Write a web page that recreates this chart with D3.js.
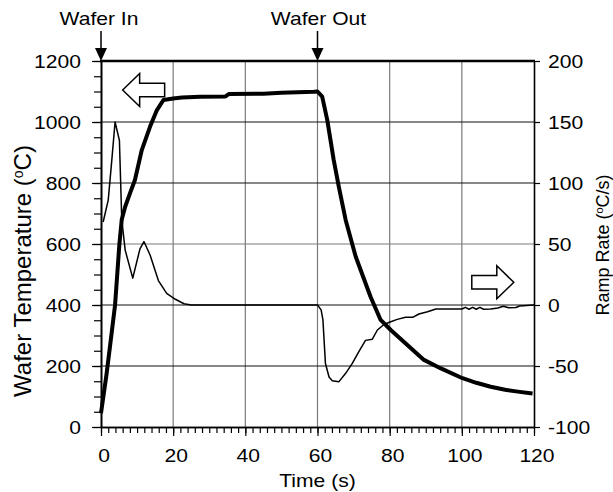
<!DOCTYPE html>
<html>
<head>
<meta charset="utf-8">
<script src="https://cdn.jsdelivr.net/npm/d3@7"></script>
<style>
	body { margin: 0; background: #fff; }
	svg { display: block; }
	text { font-family: "Liberation Sans", Arial, sans-serif; fill: #000; }
</style>
</head>
<body>
<svg id="chart"></svg>
<script>
// wafer temperature (left axis)
const tempTime = [0, 1.5, 2.5, 3.9, 5.1, 5.75, 6.7, 8, 9.4, 11.3, 13.6, 15.5, 17.3, 20, 22.4, 27.5, 34.5, 35.5, 45, 50, 59, 60, 61.3, 62.7, 64.5, 65.9, 67.8, 70.6, 74.7, 77.5, 80.3, 84.9, 89.5, 94.2, 100.2, 104, 108, 112, 115.5, 119.6];
const tempC = [45, 170, 265, 400, 600, 680, 722, 765, 810, 908, 985, 1039, 1072, 1077, 1080, 1083, 1084, 1092, 1093, 1096, 1099, 1100, 1083, 1007, 875, 788, 679, 558, 427, 351, 318, 269, 220, 192, 160, 145, 132, 122, 116, 110];

// ramp rate (right axis)
const rateTime = [0.6, 2, 3, 3.9, 5.1, 5.75, 6.7, 8.8, 10.8, 11.9, 13.6, 15.9, 18.2, 20.6, 23, 25, 60, 61, 61.5, 62.2, 63.2, 64.1, 65.9, 67.8, 69.6, 71.5, 73.3, 75.2, 76.6, 78.4, 80.3, 82.1, 84.4, 86.5, 88.1, 90.5, 92.8, 100, 101, 102, 103, 104, 105, 106, 108, 110, 111.5, 113, 115, 116, 120];
const rateCps = [68, 86, 119, 150, 135, 70, 45, 22, 46, 52, 41, 20, 9.6, 4.7, 1, 0, 0, -4, -12, -48, -59, -62, -63, -56, -48, -38, -29, -28, -20.5, -16, -13.7, -11.8, -10, -10, -7.4, -5.5, -3.3, -3.3, -1.9, -3.5, -1.9, -3.5, -1.9, -3.5, -3.3, -2.5, -1, -2.3, -2, -0.8, 0];

const xTicks = [0, 20, 40, 60, 80, 100, 120];
const leftTicks = [0, 200, 400, 600, 800, 1000, 1200];
const rightTicks = [-100, -50, 0, 50, 100, 150, 200];
const markers = [{ label: "Wafer In", t: 0 }, { label: "Wafer Out", t: 60 }];

const width = 613;
const height = 492;
const margin = { top: 61, right: 79, bottom: 65, left: 101 };
const innerWidth = width - margin.left - margin.right;
const innerHeight = height - margin.top - margin.bottom;

const svg = d3.select("#chart").attr("width", width).attr("height", height);
svg.append("rect").attr("width", width).attr("height", height).attr("fill", "#fff");
const g = svg.append("g").attr("transform", `translate(${margin.left}, ${margin.top})`);

const xScale = d3.scaleLinear().domain([0, 120]).range([0, innerWidth]);
const yLeft = d3.scaleLinear().domain([0, 1200]).range([innerHeight, 0]);
const yRight = d3.scaleLinear().domain([-100, 200]).range([innerHeight, 0]);

// the lettering in the picture is a bit wider than the font
const stretch = (sel, k = 1.14) => {
	sel.each(function () {
		const w = this.getComputedTextLength();
		d3.select(this).attr("textLength", w * k).attr("lengthAdjust", "spacingAndGlyphs");
	});
};

// grid
g.selectAll(".vgrid")
	.data(xTicks.slice(1, -1))
	.enter()
	.append("line")
	.attr("x1", (d) => xScale(d))
	.attr("x2", (d) => xScale(d))
	.attr("y1", 0)
	.attr("y2", innerHeight)
	.attr("stroke", "#7a7a7a")
	.attr("stroke-width", 1.2);
g.selectAll(".hgrid")
	.data(leftTicks.slice(1, -1))
	.enter()
	.append("line")
	.attr("x1", 0)
	.attr("x2", innerWidth)
	.attr("y1", (d) => yLeft(d))
	.attr("y2", (d) => yLeft(d))
	.attr("stroke", (d) => (d === 600 ? "#7a7a7a" : "#111"))
	.attr("stroke-width", 1.2);

// axes: tick marks from d3, labels placed separately below
const styleAxis = (ax) => {
	ax.selectAll(".tick text").remove();
	ax.selectAll("path.domain").attr("stroke", "#000").attr("stroke-width", 1.6);
	ax.selectAll(".tick line").attr("stroke", "#000").attr("stroke-width", 1.2);
};

g.append("g").call(d3.axisLeft(yLeft).tickValues(d3.range(0, 1201, 50)).tickSize(7).tickSizeOuter(0)).call(styleAxis);
g.append("g").call(d3.axisLeft(yLeft).tickValues(leftTicks).tickSize(9).tickSizeOuter(0)).call(styleAxis);
g.append("g")
	.attr("transform", `translate(${innerWidth},0)`)
	.call(d3.axisRight(yRight).tickValues(rightTicks).tickSize(6).tickSizeOuter(0))
	.call(styleAxis);
g.append("g")
	.attr("transform", `translate(0,${innerHeight})`)
	.call(d3.axisBottom(xScale).tickValues(d3.range(0, 121, 2)).tickSize(6).tickSizeOuter(0))
	.call(styleAxis);
g.append("g")
	.attr("transform", `translate(0,${innerHeight})`)
	.call(d3.axisBottom(xScale).tickValues(xTicks).tickSize(9).tickSizeOuter(0))
	.call(styleAxis);

const tickFont = "18.5px";
g.selectAll(".ylab")
	.data(leftTicks)
	.enter()
	.append("text")
	.attr("x", -20)
	.attr("y", (d) => yLeft(d))
	.attr("dy", "0.36em")
	.attr("text-anchor", "end")
	.style("font-size", tickFont)
	.text((d) => d)
	.call(stretch);
g.selectAll(".y2lab")
	.data(rightTicks)
	.enter()
	.append("text")
	.attr("x", innerWidth + 14)
	.attr("y", (d) => yRight(d))
	.attr("dy", "0.36em")
	.style("font-size", tickFont)
	.text((d) => d)
	.call(stretch);
g.selectAll(".xlab")
	.data(xTicks)
	.enter()
	.append("text")
	.attr("x", (d) => xScale(d) + 3)
	.attr("y", innerHeight + 35)
	.attr("text-anchor", "middle")
	.style("font-size", tickFont)
	.text((d) => d)
	.call(stretch);

// heavy frame top
g.append("line")
	.attr("x1", -1)
	.attr("x2", innerWidth + 1)
	.attr("y1", 0)
	.attr("y2", 0)
	.attr("stroke", "#000")
	.attr("stroke-width", 2.5);

// series
const tempLine = d3
	.line()
	.x((d, i) => xScale(tempTime[i]))
	.y((d) => yLeft(d));
g.append("path")
	.attr("d", tempLine(tempC))
	.attr("fill", "none")
	.attr("stroke", "#000")
	.attr("stroke-width", 4)
	.attr("stroke-linejoin", "round");

const rateLine = d3
	.line()
	.x((d, i) => xScale(rateTime[i]))
	.y((d) => yRight(d));
g.append("path")
	.attr("d", rateLine(rateCps))
	.attr("fill", "none")
	.attr("stroke", "#000")
	.attr("stroke-width", 1.5)
	.attr("stroke-linejoin", "round");

// hollow arrows telling which axis belongs to which curve
const blockArrow = (dir) => {
	const L = 42, H = 17, hh = 16.5, bh = 6.8;
	const pts = [[0, 0], [H, -hh], [H, -bh], [L, -bh], [L, bh], [H, bh], [H, hh]];
	return "M" + pts.map((p) => [p[0] * dir, p[1]].join(",")).join("L") + "Z";
};
g.append("path")
	.attr("d", blockArrow(1))
	.attr("transform", `translate(${xScale(6)},${yLeft(1105)})`)
	.attr("fill", "#fff")
	.attr("stroke", "#000")
	.attr("stroke-width", 1.5);
g.append("path")
	.attr("d", blockArrow(-1))
	.attr("transform", `translate(${xScale(114.4)},${yRight(18.6)})`)
	.attr("fill", "#fff")
	.attr("stroke", "#000")
	.attr("stroke-width", 1.5);

// wafer in / out markers
const mk = g.selectAll(".marker").data(markers).enter().append("g").attr("transform", (d) => `translate(${xScale(d.t)},0)`);
mk.append("line").attr("y1", -30).attr("y2", -12).attr("stroke", "#000").attr("stroke-width", 1.5);
mk.append("path").attr("d", "M-6,-13L6,-13L0,0Z").attr("fill", "#000");
mk.append("text")
	.attr("x", (d) => (d.t === 0 ? -2 : 1))
	.attr("y", -36)
	.attr("text-anchor", "middle")
	.style("font-size", "18.5px")
	.text((d) => d.label)
	.call(stretch);

// axis titles
svg.append("text")
	.attr("x", margin.left + innerWidth / 2)
	.attr("y", 487)
	.attr("text-anchor", "middle")
	.style("font-size", "18.5px")
	.text("Time (s)")
	.call(stretch);

const leftTitle = svg
	.append("text")
	.attr("transform", "translate(31,271) rotate(-90)")
	.attr("text-anchor", "middle")
	.style("font-size", "24px");
leftTitle.append("tspan").text("Wafer Temperature (");
leftTitle.append("tspan").attr("baseline-shift", "super").style("font-size", "14px").text("o");
leftTitle.append("tspan").text("C)");

const rightTitle = svg
	.append("text")
	.attr("transform", "translate(609,245) rotate(-90)")
	.attr("text-anchor", "middle")
	.style("font-size", "18px");
rightTitle.append("tspan").text("Ramp Rate (");
rightTitle.append("tspan").attr("baseline-shift", "super").style("font-size", "11px").text("o");
rightTitle.append("tspan").text("C/s)");
</script>
</body>
</html>
